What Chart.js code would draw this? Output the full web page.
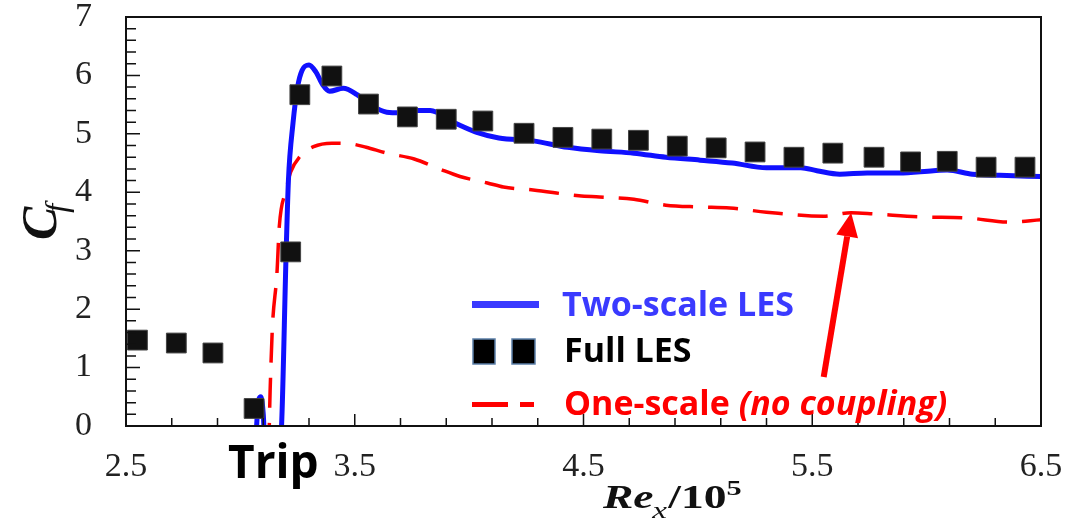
<!DOCTYPE html>
<html>
<head>
<meta charset="utf-8">
<script src="https://cdn.jsdelivr.net/npm/chart.js@4/dist/chart.umd.min.js"></script>
<style>
  html, body { margin: 0; padding: 0; background: #fff; }
  #wrap { position: relative; width: 1088px; height: 523px; }
</style>
</head>
<body>
<div id="wrap"><canvas id="cf" width="1088" height="523"></canvas></div>
<script>
// tick positions and labels
const xTickValues = [2.5, 2.7, 2.9, 3.1, 3.3, 3.5, 3.7, 3.9, 4.1, 4.3, 4.5, 4.7, 4.9, 5.1, 5.3, 5.5, 5.7, 5.9, 6.1, 6.3, 6.5];
const xTickLabels = ['2.5', '3.5', '4.5', '5.5', '6.5'];
const yTickValues = [0, 0.2, 0.4, 0.6, 0.8, 1, 1.2, 1.4, 1.6, 1.8, 2, 2.2, 2.4, 2.6, 2.8, 3, 3.2, 3.4, 3.6, 3.8,
  4, 4.2, 4.4, 4.6, 4.8, 5, 5.2, 5.4, 5.6, 5.8, 6, 6.2, 6.4, 6.6, 6.8, 7];
const yTickLabels = ['0', '1', '2', '3', '4', '5', '6', '7'];

// Full LES (squares)
const fullLesX = [2.55, 2.72, 2.88, 3.06, 3.22, 3.26, 3.40, 3.56, 3.73, 3.90, 4.06, 4.24, 4.41, 4.58, 4.74, 4.91, 5.08, 5.25, 5.42, 5.59, 5.77, 5.93, 6.09, 6.26, 6.43];
const fullLesY = [1.47, 1.42, 1.25, 0.30, 2.98, 5.67, 5.99, 5.51, 5.29, 5.25, 5.22, 5.01, 4.94, 4.91, 4.89, 4.79, 4.76, 4.69, 4.60, 4.67, 4.60, 4.52, 4.53, 4.43, 4.43];

// Two-scale LES (blue solid)
const twoScaleX = [3.065, 3.08, 3.09, 3.10, 3.11, 3.16, 3.18, 3.20, 3.21, 3.23, 3.25, 3.27, 3.30, 3.33, 3.36, 3.39, 3.45, 3.51, 3.57, 3.64, 3.70, 3.77, 3.83, 3.93, 4.03, 4.13, 4.28, 4.43, 4.57, 4.72, 4.86, 5.01, 5.15, 5.30, 5.45, 5.52, 5.62, 5.74, 5.88, 6.03, 6.09, 6.20, 6.32, 6.50];
const twoScaleY = [-0.4, 0.45, 0.5, 0.2, -0.5, -0.6, 0, 2.96, 4.2, 5.18, 5.8, 6.09, 6.18, 6.06, 5.84, 5.73, 5.78, 5.67, 5.49, 5.37, 5.36, 5.40, 5.40, 5.20, 5.03, 4.93, 4.88, 4.77, 4.71, 4.67, 4.60, 4.55, 4.50, 4.42, 4.42, 4.37, 4.31, 4.33, 4.33, 4.37, 4.38, 4.31, 4.29, 4.27];

// One-scale, no coupling (red dashed)
const oneScaleX = [3.07, 3.10, 3.125, 3.13, 3.14, 3.16, 3.17, 3.20, 3.22, 3.26, 3.32, 3.40, 3.48, 3.55, 3.64, 3.76, 3.87, 3.96, 4.08, 4.15, 4.28, 4.48, 4.57, 4.72, 4.86, 5.01, 5.14, 5.30, 5.55, 5.67, 5.77, 5.97, 6.18, 6.36, 6.50];
const oneScaleY = [-0.3, -0.3, -0.1, 0.6, 1.69, 2.62, 3.41, 4.04, 4.35, 4.61, 4.78, 4.84, 4.83, 4.77, 4.67, 4.57, 4.40, 4.27, 4.16, 4.09, 4.04, 3.94, 3.92, 3.88, 3.78, 3.75, 3.73, 3.66, 3.59, 3.65, 3.63, 3.58, 3.56, 3.49, 3.53];

// arrow annotation (data coords): tail -> tip
const arrowFrom = [5.55, 0.84];
const arrowTo = [5.67, 3.65];

const pts = (xs, ys) => xs.map((x, i) => ({ x, y: ys[i] }));
const near = (a, b) => Math.abs(a - b) < 1e-6;
const SERIF = '"Liberation Serif", "Times New Roman", serif';
const SANS = '"Open Sans", "Liberation Sans", sans-serif';

// box round the plot, ticks pointing inward
const frame = {
  id: 'frame',
  afterDatasetsDraw(chart) {
    const { ctx, chartArea: a, scales: { x, y } } = chart;
    ctx.save();
    ctx.strokeStyle = '#111';
    ctx.lineWidth = 1.5;
    ctx.beginPath();
    xTickValues.forEach(v => {
      const px = x.getPixelForValue(v);
      const len = xTickLabels.some(l => near(+l, v)) ? 12 : 8;
      ctx.moveTo(px, a.bottom);
      ctx.lineTo(px, a.bottom - len);
    });
    yTickValues.forEach(v => {
      const py = y.getPixelForValue(v);
      const len = Number.isInteger(v) ? 14 : 10;
      ctx.moveTo(a.left, py);
      ctx.lineTo(a.left + len, py);
    });
    ctx.stroke();
    ctx.lineWidth = 2;
    ctx.strokeRect(a.left, a.top, a.right - a.left, a.bottom - a.top);
    ctx.restore();
  }
};

const arrow = {
  id: 'arrow',
  afterDatasetsDraw(chart) {
    const { ctx, scales: { x, y } } = chart;
    const x0 = x.getPixelForValue(arrowFrom[0]), y0 = y.getPixelForValue(arrowFrom[1]);
    const x1 = x.getPixelForValue(arrowTo[0]), y1 = y.getPixelForValue(arrowTo[1]);
    const ang = Math.atan2(y1 - y0, x1 - x0);
    const head = 24, half = 11;
    const bx = x1 - head * Math.cos(ang), by = y1 - head * Math.sin(ang);
    ctx.save();
    ctx.strokeStyle = '#ff0000';
    ctx.fillStyle = '#ff0000';
    ctx.lineWidth = 6;
    ctx.beginPath();
    ctx.moveTo(x0, y0);
    ctx.lineTo(bx, by);
    ctx.stroke();
    ctx.beginPath();
    ctx.moveTo(x1, y1);
    ctx.lineTo(bx + half * Math.sin(ang), by - half * Math.cos(ang));
    ctx.lineTo(bx - half * Math.sin(ang), by + half * Math.cos(ang));
    ctx.closePath();
    ctx.fill();
    ctx.restore();
  }
};

// axis titles, "Trip" mark and the legend
const labels = {
  id: 'labels',
  afterDraw(chart) {
    const ctx = chart.ctx;
    ctx.save();
    ctx.textBaseline = 'alphabetic';
    ctx.textAlign = 'left';

    // y title: C_f rotated
    ctx.save();
    ctx.translate(56, 240);
    ctx.rotate(-Math.PI / 2);
    ctx.fillStyle = '#111';
    ctx.font = 'italic bold 50px ' + SERIF;
    ctx.fillText('C', 0, 0);
    const cw = ctx.measureText('C').width;
    ctx.font = 'italic 32px ' + SERIF;
    ctx.fillText('f', cw - 6, 11);
    ctx.restore();

    // x title: Re_x / 10^5 (the source lettering is wide, so stretch it)
    ctx.save();
    ctx.translate(603, 508);
    ctx.scale(1.38, 1);
    let cx = 0;
    ctx.fillStyle = '#111';
    ctx.font = 'italic bold 33px ' + SERIF;
    ctx.fillText('Re', cx, 0);
    cx += ctx.measureText('Re').width;
    ctx.font = 'italic 24px ' + SERIF;
    ctx.fillText('x', cx - 1, 10);
    cx += ctx.measureText('x').width;
    ctx.font = 'bold 33px ' + SERIF;
    ctx.fillText('/10', cx, 0);
    cx += ctx.measureText('/10').width;
    ctx.font = 'bold 22px ' + SERIF;
    ctx.fillText('5', cx, -13);
    ctx.restore();

    // Trip
    ctx.fillStyle = '#000';
    ctx.font = 'bold 46px ' + SANS;
    ctx.fillText('Trip', 228, 478);

    // legend
    ctx.font = 'bold 34px ' + SANS;
    ctx.fillStyle = '#3a3aff';
    ctx.fillRect(472, 301, 67, 7);
    ctx.fillText('Two-scale LES', 562, 316);

    ctx.fillStyle = '#000';
    ctx.strokeStyle = '#5b7fa8';
    ctx.lineWidth = 1.5;
    [[473, 22], [512, 23]].forEach(([lx, w]) => {
      ctx.fillRect(lx, 339, w, 25);
      ctx.strokeRect(lx, 339, w, 25);
    });
    ctx.fillStyle = '#000';
    ctx.fillText('Full LES', 564, 362);

    ctx.fillStyle = '#ff0000';
    ctx.fillRect(472, 402, 36, 5);
    ctx.fillRect(520, 402, 14, 5);
    ctx.fillText('One-scale ', 564, 415);
    const ow = ctx.measureText('One-scale ').width;
    ctx.font = 'italic bold 34px ' + SANS;
    ctx.fillText('(no coupling)', 564 + ow, 415);
    ctx.restore();
  }
};

new Chart(document.getElementById('cf').getContext('2d'), {
  type: 'scatter',
  data: {
    datasets: [
      {
        label: 'Full LES',
        data: pts(fullLesX, fullLesY),
        pointStyle: 'rect',
        pointRadius: 14,
        backgroundColor: '#111',
        borderColor: '#444',
        borderWidth: 1,
        order: 0
      },
      {
        label: 'Two-scale LES',
        data: pts(twoScaleX, twoScaleY),
        showLine: true,
        borderColor: '#1010ff',
        borderWidth: 5,
        pointRadius: 0,
        cubicInterpolationMode: 'monotone',
        clip: 0,
        order: 1
      },
      {
        label: 'One-scale (no coupling)',
        data: pts(oneScaleX, oneScaleY),
        showLine: true,
        borderColor: '#ff0000',
        borderWidth: 3.5,
        borderDash: [30, 15],
        pointRadius: 0,
        cubicInterpolationMode: 'monotone',
        clip: 0,
        order: 2
      }
    ]
  },
  options: {
    responsive: false,
    animation: false,
    layout: { padding: { top: 17, right: 47, left: 0, bottom: 0 } },
    plugins: { legend: { display: false }, tooltip: { enabled: false } },
    scales: {
      x: {
        type: 'linear',
        min: 2.5,
        max: 6.5,
        afterBuildTicks: s => { s.ticks = xTickValues.map(v => ({ value: v })); },
        afterFit: s => { s.height = 97; s.paddingLeft = 0; s.paddingRight = 0; },
        grid: { drawOnChartArea: false, drawTicks: false },
        border: { display: false },
        ticks: {
          autoSkip: false,
          maxRotation: 0,
          padding: 24,
          color: '#222',
          font: { family: SERIF, size: 34, lineHeight: 1 },
          callback: v => xTickLabels.find(l => near(+l, v)) || ''
        }
      },
      y: {
        type: 'linear',
        min: 0,
        max: 7,
        afterBuildTicks: s => { s.ticks = yTickValues.map(v => ({ value: v })); },
        afterFit: s => { s.width = 126; s.paddingTop = 0; s.paddingBottom = 0; },
        grid: { drawOnChartArea: false, drawTicks: false },
        border: { display: false },
        ticks: {
          autoSkip: false,
          padding: 34,
          color: '#222',
          font: { family: SERIF, size: 34, lineHeight: 1 },
          callback: v => yTickLabels.find(l => near(+l, v)) || ''
        }
      }
    }
  },
  plugins: [frame, arrow, labels]
});
</script>
</body>
</html>
